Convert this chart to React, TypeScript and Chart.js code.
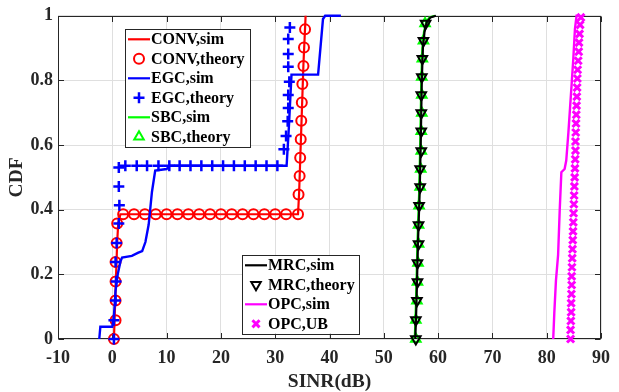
import React, { useEffect, useRef } from "react";
import { Chart, registerables } from "chart.js";

Chart.register(...registerables);

// ---------- ticks ----------
const xTicks = [-10, 0, 10, 20, 30, 40, 50, 60, 70, 80, 90];
const xTickLabels = ["-10", "0", "10", "20", "30", "40", "50", "60", "70", "80", "90"];
const yTicks = [0, 0.2, 0.4, 0.6, 0.8, 1];
const yTickLabels = ["0", "0.2", "0.4", "0.6", "0.8", "1"];

// ---------- CONV ----------
const convSimX = [0.3, 0.5, 0.7, 0.9, 1.1, 1.5, 34.2, 34.4, 34.8, 35.2, 35.6];
const convSimY = [0, 0.1, 0.2, 0.3, 0.36, 0.386, 0.386, 0.45, 0.65, 0.85, 1.0];
const convThX = [0.3, 0.6, 0.6, 0.6, 0.6, 0.8, 0.9, 2, 4, 6, 8, 10, 12, 14, 16, 18, 20, 22, 24, 26, 28, 30, 32, 34.2, 34.3, 34.5, 34.6, 34.7, 34.8, 34.9, 35.0, 35.2, 35.3, 35.5];
const convThY = [0, 0.058, 0.119, 0.178, 0.238, 0.297, 0.357, 0.386, 0.386, 0.386, 0.386, 0.386, 0.386, 0.386, 0.386, 0.386, 0.386, 0.386, 0.386, 0.386, 0.386, 0.386, 0.386, 0.386, 0.447, 0.504, 0.561, 0.618, 0.675, 0.732, 0.789, 0.845, 0.902, 0.958];

// ---------- EGC ----------
const egcSimX = [-2.4, -2.2, 0, 0.3, 0.6, 1.0, 1.5, 1.8, 3.6, 4.8, 5.5, 6.1, 6.7, 7.3, 7.9, 10, 10.6, 32.1, 32.5, 33.0, 37.9, 38.8, 39.2, 42.1];
const egcSimY = [0, 0.038, 0.038, 0.07, 0.15, 0.2, 0.24, 0.252, 0.257, 0.267, 0.272, 0.3, 0.354, 0.455, 0.521, 0.526, 0.536, 0.536, 0.65, 0.818, 0.818, 0.99, 1.0, 1.0];
const egcThX = [0.3, 0.3, 0.6, 0.7, 0.6, 0.8, 1.2, 1.3, 1.2, 1.2, 2.4, 4.5, 6.4, 8.5, 10.5, 12.4, 14.4, 16.4, 18.4, 20.4, 22.4, 24.4, 26.4, 28.4, 30.4, 31.6, 32.0, 32.3, 32.4, 32.4, 32.6, 32.4, 32.4, 32.4, 32.7];
const egcThY = [0, 0.058, 0.119, 0.178, 0.238, 0.297, 0.357, 0.414, 0.472, 0.531, 0.536, 0.536, 0.536, 0.536, 0.536, 0.536, 0.536, 0.536, 0.536, 0.536, 0.536, 0.536, 0.536, 0.536, 0.536, 0.587, 0.628, 0.674, 0.715, 0.755, 0.796, 0.842, 0.882, 0.928, 0.964];

// ---------- SBC ----------
const sbcSimX = [55.7, 55.9, 56.2, 56.5, 56.7, 56.9, 57.1, 57.4, 57.8, 58.4, 59.4];
const sbcSimY = [0, 0.1, 0.3, 0.45, 0.6, 0.8, 0.9, 0.95, 0.98, 0.995, 1.0];
const sbcThX = [55.9, 55.9, 56.1, 56.2, 56.3, 56.4, 56.4, 56.5, 56.7, 56.8, 56.9, 56.9, 57.0, 57.0, 57.0, 57.1, 57.3, 57.6];
const sbcThY = [0, 0.059, 0.118, 0.176, 0.235, 0.294, 0.353, 0.412, 0.47, 0.526, 0.582, 0.643, 0.699, 0.755, 0.811, 0.867, 0.923, 0.976];

// ---------- MRC ----------
const mrcSimX = [55.8, 56.0, 56.3, 56.6, 56.8, 57.0, 57.2, 57.5, 57.9, 58.6, 59.6];
const mrcSimY = [0, 0.1, 0.3, 0.45, 0.6, 0.8, 0.9, 0.95, 0.98, 0.995, 1.0];
const mrcThX = [55.9, 55.9, 56.1, 56.2, 56.2, 56.4, 56.4, 56.5, 56.7, 56.7, 56.9, 56.9, 56.9, 56.9, 57.0, 57.1, 57.3, 57.7];
const mrcThY = [0, 0.059, 0.118, 0.176, 0.235, 0.294, 0.353, 0.412, 0.47, 0.526, 0.582, 0.643, 0.699, 0.755, 0.811, 0.867, 0.923, 0.976];

// ---------- OPC ----------
const opcSimX = [81.2, 81.4, 81.7, 82.1, 82.4, 82.7, 83.3, 83.6, 84.0, 84.3, 84.6, 84.9, 85.2, 85.5, 85.9];
const opcSimY = [0, 0.08, 0.18, 0.26, 0.4, 0.516, 0.526, 0.552, 0.64, 0.715, 0.79, 0.867, 0.959, 1.0, 1.0];
const opcUbX = [84.4, 84.4, 84.45, 84.5, 84.5, 84.55, 84.6, 84.6, 84.65, 84.7, 84.75, 84.8, 84.85, 84.9, 84.95, 85.0, 85.05, 85.1, 85.15, 85.2, 85.25, 85.3, 85.3, 85.35, 85.4, 85.45, 85.5, 85.55, 85.6, 85.65, 85.7, 85.8, 85.9, 85.95, 86.05, 86.15, 86.3];
const opcUbY = [0, 0.028, 0.056, 0.083, 0.111, 0.139, 0.167, 0.194, 0.222, 0.25, 0.278, 0.306, 0.333, 0.361, 0.389, 0.417, 0.444, 0.472, 0.5, 0.528, 0.556, 0.583, 0.611, 0.639, 0.667, 0.694, 0.722, 0.75, 0.778, 0.806, 0.833, 0.861, 0.889, 0.917, 0.944, 0.972, 0.995];

const RED = "#ff0000";
const BLUE = "#0000ff";
const GREEN = "#00ff00";
const BLACK = "#000000";
const MAGENTA = "#ff00ff";
const AXIS = "#262626";
const GRID = "#dfdfdf";
const FONT_FAMILY = '"Liberation Serif", "Times New Roman", serif';

Chart.defaults.font.family = FONT_FAMILY;
Chart.defaults.font.weight = "bold" as any;

type Kind = "line" | "circle" | "plus" | "triUp" | "triDown" | "x";

const MARK: Record<string, { r: number; w: number }> = {
  circle: { r: 5, w: 2 },
  plus: { r: 5.5, w: 2.5 },
  x: { r: 5, w: 3 },
  triUp: { r: 5.5, w: 2 },
  triDown: { r: 5.5, w: 2 },
};

const pts = (xs: number[], ys: number[]) => xs.map((x, i) => ({ x, y: ys[i] }));

function lineDs(label: string, xs: number[], ys: number[], color: string, width: number) {
  return {
    label,
    data: pts(xs, ys),
    showLine: true,
    borderColor: color,
    backgroundColor: color,
    borderWidth: width,
    pointRadius: 0,
    tension: 0,
    clip: false as any,
    kind: "line" as Kind,
  };
}

function markDs(label: string, xs: number[], ys: number[], color: string, kind: Kind) {
  const style: any =
    kind === "circle" ? "circle" : kind === "plus" ? "cross" : kind === "x" ? "crossRot" : "triangle";
  return {
    label,
    data: pts(xs, ys),
    showLine: false,
    borderColor: color,
    backgroundColor: "rgba(0,0,0,0)",
    pointStyle: style,
    pointRadius: MARK[kind].r,
    pointBorderWidth: MARK[kind].w,
    pointRotation: kind === "triDown" ? 180 : 0,
    clip: false as any,
    kind,
  };
}

const datasetsList: any[] = [
  lineDs("CONV,sim", convSimX, convSimY, RED, 2.2),
  markDs("CONV,theory", convThX, convThY, RED, "circle"),
  lineDs("EGC,sim", egcSimX, egcSimY, BLUE, 2.4),
  markDs("EGC,theory", egcThX, egcThY, BLUE, "plus"),
  lineDs("SBC,sim", sbcSimX, sbcSimY, GREEN, 2.2),
  markDs("SBC,theory", sbcThX, sbcThY, GREEN, "triUp"),
  lineDs("MRC,sim", mrcSimX, mrcSimY, BLACK, 2.2),
  markDs("MRC,theory", mrcThX, mrcThY, BLACK, "triDown"),
  lineDs("OPC,sim", opcSimX, opcSimY, MAGENTA, 2.4),
  markDs("OPC,UB", opcUbX, opcUbY, MAGENTA, "x"),
];
datasetsList.forEach((d, i) => (d.order = datasetsList.length - i));

const legend1 = [0, 1, 2, 3, 4, 5];
const legend2 = [6, 7, 8, 9];

function drawMarker(ctx: CanvasRenderingContext2D, kind: Kind, color: string, x: number, y: number) {
  const { r, w } = MARK[kind];
  ctx.save();
  ctx.strokeStyle = color;
  ctx.lineWidth = w;
  ctx.beginPath();
  if (kind === "circle") {
    ctx.arc(x, y, r, 0, Math.PI * 2);
  } else if (kind === "plus") {
    ctx.moveTo(x - r, y);
    ctx.lineTo(x + r, y);
    ctx.moveTo(x, y - r);
    ctx.lineTo(x, y + r);
  } else if (kind === "x") {
    const d = r * Math.SQRT1_2;
    ctx.moveTo(x - d, y - d);
    ctx.lineTo(x + d, y + d);
    ctx.moveTo(x + d, y - d);
    ctx.lineTo(x - d, y + d);
  } else if (kind === "triUp" || kind === "triDown") {
    const s = kind === "triUp" ? 1 : -1;
    ctx.moveTo(x, y - s * r);
    ctx.lineTo(x + r * 0.866, y + s * r * 0.5);
    ctx.lineTo(x - r * 0.866, y + s * r * 0.5);
    ctx.closePath();
  }
  ctx.stroke();
  ctx.restore();
}

function drawLegend(chart: any, idx: number[], x0: number, y0: number, w: number, h: number) {
  const ctx: CanvasRenderingContext2D = chart.ctx;
  ctx.save();
  ctx.fillStyle = "#ffffff";
  ctx.fillRect(x0, y0, w, h);
  ctx.strokeStyle = AXIS;
  ctx.lineWidth = 1;
  ctx.strokeRect(Math.round(x0) + 0.5, Math.round(y0) + 0.5, Math.round(w), Math.round(h));
  ctx.font = `bold 16px ${FONT_FAMILY}`;
  ctx.textBaseline = "middle";
  ctx.textAlign = "left";
  idx.forEach((di, k) => {
    const ds = chart.data.datasets[di];
    const cy = y0 + 10 + k * 19.5;
    if (ds.kind === "line") {
      ctx.strokeStyle = ds.borderColor;
      ctx.lineWidth = 2.2;
      ctx.beginPath();
      ctx.moveTo(x0 + 3, cy);
      ctx.lineTo(x0 + 25, cy);
      ctx.stroke();
    } else {
      drawMarker(ctx, ds.kind, ds.borderColor, x0 + 14, cy);
    }
    ctx.fillStyle = "#000000";
    ctx.fillText(ds.label, x0 + 26, cy + 1);
  });
  ctx.restore();
}

const framePlugin = {
  id: "frame",
  beforeDatasetsDraw(chart: any) {
    const { ctx, chartArea, scales } = chart;
    const l = Math.round(chartArea.left) + 0.5;
    const r = Math.round(chartArea.right) - 0.5;
    const t = Math.round(chartArea.top) + 0.5;
    const b = Math.round(chartArea.bottom) - 0.5;
    ctx.save();
    ctx.strokeStyle = AXIS;
    ctx.lineWidth = 1;
    ctx.strokeRect(l, t, r - l, b - t);
    ctx.beginPath();
    const tl = 5.5;
    xTicks.forEach((v) => {
      const px = Math.round(scales.x.getPixelForValue(v)) + 0.5;
      ctx.moveTo(px, b);
      ctx.lineTo(px, b - tl);
      ctx.moveTo(px, t);
      ctx.lineTo(px, t + tl);
    });
    yTicks.forEach((v) => {
      const py = Math.round(scales.y.getPixelForValue(v)) + 0.5;
      ctx.moveTo(l, py);
      ctx.lineTo(l + tl, py);
      ctx.moveTo(r, py);
      ctx.lineTo(r - tl, py);
    });
    ctx.stroke();
    ctx.restore();
  },
  afterDraw(chart: any) {
    const { chartArea } = chart;
    drawLegend(chart, legend1, chartArea.left + 67, chartArea.top + 13.5, 125, 117.5);
    drawLegend(chart, legend2, chartArea.left + 184, chartArea.top + 239.5, 116.5, 78.5);
  },
};

export default function App() {
  const ref = useRef<HTMLCanvasElement>(null);
  useEffect(() => {
    const canvas = ref.current!;
    const tickFont = { family: FONT_FAMILY, size: 18, weight: 700 };
    const titleFont = { family: FONT_FAMILY, size: 19.5, weight: 700, lineHeight: 1 };
    const chart = new Chart(canvas, {
      type: "scatter",
      data: { datasets: datasetsList },
      options: {
        responsive: false,
        animation: false,
        events: [],
        layout: { padding: { top: 11.5, right: 11, left: 0, bottom: 0 } },
        plugins: {
          legend: { display: false },
          tooltip: { enabled: false },
        },
        scales: {
          x: {
            type: "linear",
            min: -10,
            max: 90,
            afterBuildTicks: (s: any) => {
              s.ticks = xTicks.map((v) => ({ value: v }));
            },
            afterFit: (s: any) => {
              s.height = 53;
            },
            ticks: {
              callback: (_v: any, i: number) => xTickLabels[i],
              font: tickFont,
              color: AXIS,
              padding: 9,
              maxRotation: 0,
              autoSkip: false,
            },
            grid: { color: GRID, drawTicks: false, lineWidth: 1 },
            border: { display: false },
            title: {
              display: true,
              text: "SINR(dB)",
              font: titleFont,
              color: AXIS,
              padding: { top: 0, bottom: 0.5 },
            },
          },
          y: {
            type: "linear",
            min: 0,
            max: 1,
            afterBuildTicks: (s: any) => {
              s.ticks = yTicks.map((v) => ({ value: v }));
            },
            afterFit: (s: any) => {
              s.width = 58;
            },
            ticks: {
              callback: (_v: any, i: number) => yTickLabels[i],
              font: tickFont,
              color: AXIS,
              padding: 5,
              autoSkip: false,
            },
            grid: { color: GRID, drawTicks: false, lineWidth: 1 },
            border: { display: false },
            title: {
              display: true,
              text: "CDF",
              font: titleFont,
              color: AXIS,
              padding: { top: 7, bottom: 0 },
            },
          },
        },
      } as any,
      plugins: [framePlugin],
    });
    return () => chart.destroy();
  }, []);
  return (
    <div style={{ position: "fixed", left: 0, top: 0, width: 619, height: 392, background: "#ffffff" }}>
      <canvas ref={ref} width={619} height={392} style={{ display: "block" }} />
    </div>
  );
}
